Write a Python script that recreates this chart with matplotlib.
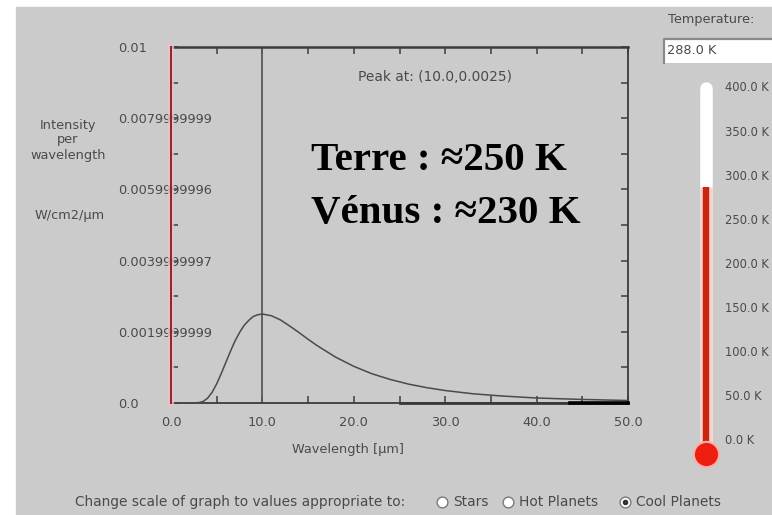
import matplotlib.pyplot as plt
from matplotlib.patches import Rectangle

# Blackbody curve at 288 K (wavelength in um, intensity in W/cm2/um)
wavelength = [0.0, 2.0, 3.0, 3.5, 4.0, 4.5, 5.0, 5.5, 6.0, 6.5, 7.0, 7.5,
              8.0, 8.5, 9.0, 9.5, 10.0, 11.0, 12.0, 13.0, 14.0, 15.0, 16.0,
              18.0, 20.0, 22.0, 24.0, 26.0, 28.0, 30.0, 33.0, 36.0, 40.0,
              45.0, 50.0]
intensity = [0.0, 0.0, 0.00001, 0.00004, 0.000135, 0.0003, 0.00054, 0.00083,
             0.00114, 0.00145, 0.00174, 0.00198, 0.00218, 0.00232, 0.00243,
             0.00248, 0.0025, 0.00245, 0.00233, 0.00216, 0.00198, 0.00179,
             0.00161, 0.00129, 0.00103, 0.00082, 0.00066, 0.00053, 0.00043,
             0.00035, 0.00026, 0.0002, 0.00014, 0.0001, 0.00007]
peak = (10.0, 0.0025)
floor_x = [25.0, 50.0]
floor_dark_x = [43.6, 50.0]

x_ticks = [0, 10, 20, 30, 40, 50]
x_tick_labels = ["0.0", "10.0", "20.0", "30.0", "40.0", "50.0"]
y_ticks = [0.0, 0.002, 0.004, 0.006, 0.008, 0.01]
y_tick_labels = ["0.0", "0.0019999999", "0.0039999997", "0.0059999996",
                 "0.0079999999", "0.01"]

temperature = 288.0
scale_temps = [0, 50, 100, 150, 200, 250, 300, 350, 400]
scale_options = ["Stars", "Hot Planets", "Cool Planets"]
selected_option = "Cool Planets"
notes = ["Terre : \u2248250 K", "V\u00e9nus : \u2248230 K"]

GRAY = "#cbcbcb"
INK = "#4a4a4a"
UI_FONT = dict(family="DejaVu Sans", fontsize=9.3, color=INK)
ROW_FONT = dict(family="DejaVu Sans", fontsize=9.9, color=INK)
SCALE_FONT = dict(family="DejaVu Sans", fontsize=8.3, color=INK)

W, H = 772, 515
fig = plt.figure(figsize=(W / 100, H / 100), dpi=100, facecolor="white")

# pixel-space layer for the panel widgets
bg = fig.add_axes([0, 0, 1, 1])
bg.set_xlim(0, W)
bg.set_ylim(H, 0)
bg.axis("off")
bg.add_patch(Rectangle((16, 7), W - 16, H - 7, color=GRAY, zorder=0))

# main graph
ax = fig.add_axes([171 / W, 1 - 403 / H, 457 / W, 356 / H])
ax.set_facecolor("none")
ax.set_xlim(0, 50)
ax.set_ylim(0, 0.01)
ax.plot(wavelength, intensity, color="#4a4a4a", lw=1.1, zorder=3)
ax.axvline(peak[0], color="#5a5a5a", lw=1.3, zorder=2)
ax.plot(floor_x, [0, 0], color="#3a3a3a", lw=2.0, zorder=4, clip_on=False)
ax.plot(floor_dark_x, [0, 0], color="black", lw=2.6, zorder=4, clip_on=False)
# red marker line over the y axis
ax.axvline(0, color="#eec0c4", lw=4.5, alpha=0.8, zorder=4, clip_on=False)
ax.axvline(0, color="#862838", lw=1.4, zorder=5, clip_on=False)

for side in ax.spines.values():
    side.set_color("#3c3c3c")
    side.set_linewidth(1.3)
ax.spines["top"].set_linewidth(1.8)

ax.set_xticks(x_ticks)
ax.set_xticklabels(x_tick_labels, **UI_FONT)
ax.set_xticks([v + 5 for v in x_ticks[:-1]], minor=True)
ax.set_yticks(y_ticks)
ax.set_yticklabels(y_tick_labels, ha="left", **UI_FONT)
ax.set_yticks([v + 0.001 for v in y_ticks[:-1]], minor=True)
ax.tick_params(which="both", direction="in", length=5, width=1.1,
               color="#3c3c3c", top=True, right=True)
ax.tick_params(axis="y", which="major", pad=38)
ax.tick_params(axis="x", which="major", pad=9)

ax.text(0.578, 0.915, f"Peak at: ({peak[0]:.1f},{peak[1]})",
        transform=ax.transAxes, ha="center", va="center", **ROW_FONT)

for i, note in enumerate(notes):
    bg.text(311, 170 + 53 * i, note, family="Liberation Serif",
            fontweight="bold", fontsize=29.5, color="black",
            ha="left", va="baseline")

bg.text(68, 140, "Intensity\nper\nwavelength", ha="center", va="center",
        linespacing=1.2, **UI_FONT)
bg.text(70, 215, "W/cm2/\u00b5m", ha="center", va="center", **UI_FONT)
bg.text(348, 449, "Wavelength [\u00b5m]", ha="center", va="center", **UI_FONT)

# temperature readout
bg.text(668, 19, "Temperature:", ha="left", va="center", **UI_FONT)
bg.add_patch(Rectangle((663, 38), 120, 25, facecolor="white",
                       edgecolor="none", zorder=1))
bg.plot([664, 664, W], [63, 39, 39], color="#8a8a8a", lw=1.6, zorder=2)
bg.text(667, 51, f"{temperature:.1f} K", ha="left", va="center", zorder=3,
        **UI_FONT)

# thermometer, vertical axis in kelvin
th = fig.add_axes([690 / W, 1 - 480 / H, 32 / W, 420 / H])
th.set_xlim(-16, 16)
th.set_ylim(-44.2, 431.7)
th.axis("off")
th.plot([0, 0], [-15, scale_temps[-1]], color="white", lw=9.0,
        solid_capstyle="round")
th.plot([0, 0], [-15, temperature], color="#f6d2cd", lw=9.0,
        solid_capstyle="butt")
th.plot([0, 0], [-15, temperature], color="#c9260f", lw=4.6,
        solid_capstyle="butt")
th.scatter([0], [-15], s=330, color="#ee1f10", edgecolors="#f4b2aa",
           linewidths=1.5, zorder=5)
for t in scale_temps:
    th.text(19, t, f"{t:.1f} K", ha="left", va="center", clip_on=False,
            **SCALE_FONT)

# scale selector row
bg.text(75, 502, "Change scale of graph to values appropriate to:",
        ha="left", va="center", **ROW_FONT)
radio_x = [442, 508, 625]
for x, label in zip(radio_x, scale_options):
    bg.scatter([x], [502], s=60, facecolor="white", edgecolor="#7a7a7a",
               linewidths=1.0, zorder=3)
    if label == selected_option:
        bg.scatter([x], [502], s=9, color="#333333", zorder=4)
    bg.text(x + 11, 502, label, ha="left", va="center", **ROW_FONT)

fig.savefig("out.png", dpi=100, facecolor=fig.get_facecolor())
